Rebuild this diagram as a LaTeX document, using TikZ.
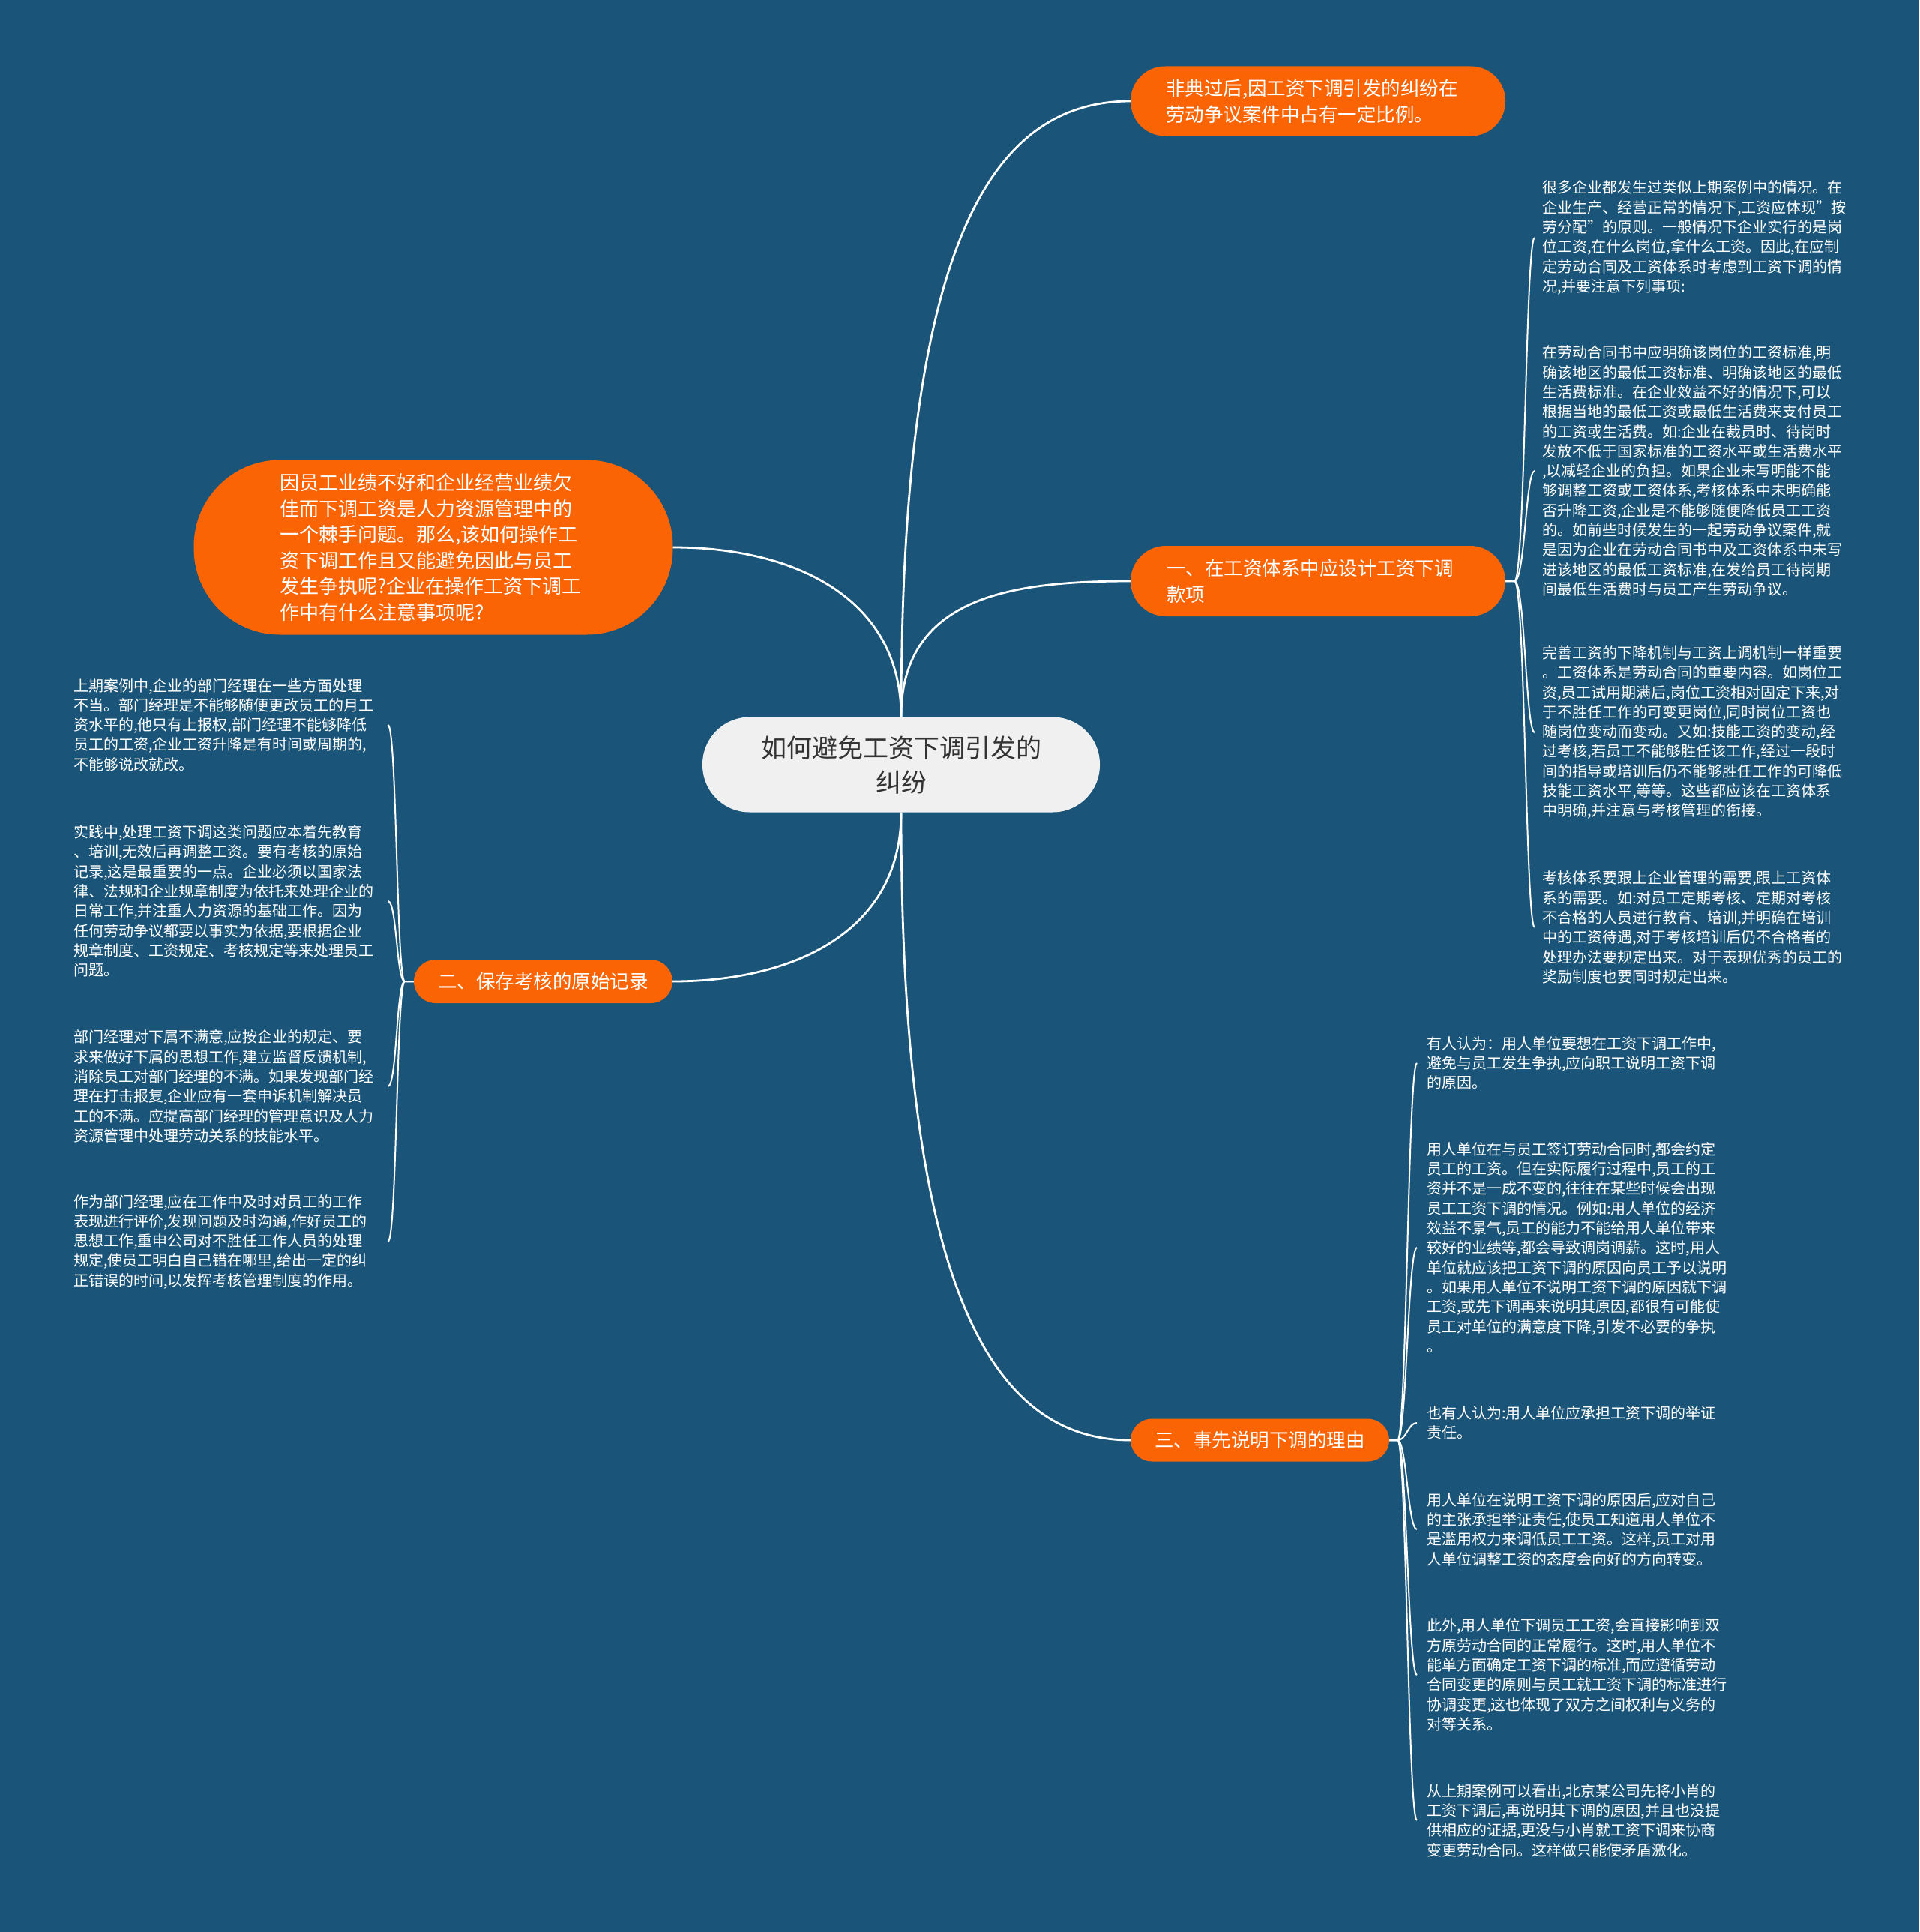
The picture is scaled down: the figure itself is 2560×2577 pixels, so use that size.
\documentclass[tikz,border=0pt]{standalone}
\usepackage{fontspec}
\setmainfont{Noto Sans CJK SC}
\definecolor{bg}{HTML}{1A5579}
\definecolor{org}{HTML}{FA6405}
\definecolor{cgray}{HTML}{F0F0F0}
\definecolor{ctext}{HTML}{333333}
\tikzset{
  orangebox/.style={fill=org, text=white, font=\fontsize{25.5}{35}\selectfont},
  centerbox/.style={fill=cgray, text=ctext, align=center, minimum width=530pt, minimum height=127pt,
     rounded corners=63pt, font=\fontsize{34}{46}\selectfont},
  leaftext/.style={text=white, text width=415pt, align=left, inner sep=0pt, font=\fontsize{20}{26.3}\selectfont},
  conn/.style={draw=white, line width=2.8pt},
  leafconn/.style={draw=white, line width=2pt}
}
\begin{document}
\begin{tikzpicture}[x=1pt,y=-1pt]
\fill[bg] (0,0) rectangle (2560,2577);
\useasboundingbox (0,0) rectangle (2560,2577);

% main nodes
\node[centerbox] (c) at (1202,1020) {如何避免工资下调引发的\\纠纷};
\node[orangebox, rounded corners=46pt, minimum width=500pt, minimum height=93pt,
      text width=406pt, inner xsep=47pt, align=left] (tr) at (1758,135)
  {非典过后,因工资下调引发的纠纷在\\劳动争议案件中占有一定比例。};
\node[orangebox, rounded corners=47pt, minimum width=500pt, minimum height=94pt,
      text width=404pt, inner xsep=48pt, align=left] (n1) at (1758,775)
  {一、在工资体系中应设计工资下调\\款项};
\node[orangebox, rounded corners=115pt, minimum width=639pt, minimum height=233pt,
      text width=410pt, inner xsep=114.5pt, align=left, font=\fontsize{26}{34.6}\selectfont] (lb) at (578,730)
  {因员工业绩不好和企业经营业绩欠\\佳而下调工资是人力资源管理中的\\一个棘手问题。那么,该如何操作工\\资下调工作且又能避免因此与员工\\发生争执呢?企业在操作工资下调工\\作中有什么注意事项呢?};
\node[orangebox, rounded corners=29pt, minimum width=345pt, minimum height=58pt, inner xsep=30pt] (n2) at (724.5,1309)
  {二、保存考核的原始记录};
\node[orangebox, rounded corners=28.5pt, minimum width=345pt, minimum height=57pt, inner xsep=30pt] (n3) at (1680.5,1921)
  {三、事先说明下调的理由};

% main connectors
\draw[conn] (c.north) .. controls +(0,-600) and +(-200,0) .. (tr.west);
\draw[conn] (c.north) .. controls +(0,-160) and +(-160,0) .. (n1.west);
\draw[conn] (c.north) .. controls +(0,-160) and +(160,0) .. (lb.east);
\draw[conn] (c.south) .. controls +(0,160) and +(160,0) .. (n2.east);
\draw[conn] (c.south) .. controls +(0,600) and +(-200,0) .. (n3.west);

% right leaves (section 1)
\node[leaftext, anchor=west] (r1) at (2057,317) {很多企业都发生过类似上期案例中的情况。在\\企业生产、经营正常的情况下,工资应体现"按\\劳分配"的原则。一般情况下企业实行的是岗\\位工资,在什么岗位,拿什么工资。因此,在应制\\定劳动合同及工资体系时考虑到工资下调的情\\况,并要注意下列事项:};
\node[leaftext, anchor=west] (r2) at (2057,628) {在劳动合同书中应明确该岗位的工资标准,明\\确该地区的最低工资标准、明确该地区的最低\\生活费标准。在企业效益不好的情况下,可以\\根据当地的最低工资或最低生活费来支付员工\\的工资或生活费。如:企业在裁员时、待岗时\\发放不低于国家标准的工资水平或生活费水平\\,以减轻企业的负担。如果企业未写明能不能\\够调整工资或工资体系,考核体系中未明确能\\否升降工资,企业是不能够随便降低员工工资\\的。如前些时候发生的一起劳动争议案件,就\\是因为企业在劳动合同书中及工资体系中未写\\进该地区的最低工资标准,在发给员工待岗期\\间最低生活费时与员工产生劳动争议。};
\node[leaftext, anchor=west] (r3) at (2057,977) {完善工资的下降机制与工资上调机制一样重要\\。工资体系是劳动合同的重要内容。如岗位工\\资,员工试用期满后,岗位工资相对固定下来,对\\于不胜任工作的可变更岗位,同时岗位工资也\\随岗位变动而变动。又如:技能工资的变动,经\\过考核,若员工不能够胜任该工作,经过一段时\\间的指导或培训后仍不能够胜任工作的可降低\\技能工资水平,等等。这些都应该在工资体系\\中明确,并注意与考核管理的衔接。};
\node[leaftext, anchor=west] (r4) at (2057,1237) {考核体系要跟上企业管理的需要,跟上工资体\\系的需要。如:对员工定期考核、定期对考核\\不合格的人员进行教育、培训,并明确在培训\\中的工资待遇,对于考核培训后仍不合格者的\\处理办法要规定出来。对于表现优秀的员工的\\奖励制度也要同时规定出来。};
\foreach \k in {r1,r2,r3,r4}
  \draw[leafconn] (n1.east) -- ++(12,0) .. controls +(14,0) and +(-12,0) .. ([xshift=-10pt]\k.west);

% left leaves (section 2)
\node[leaftext, anchor=west] (l1) at (98,967) {上期案例中,企业的部门经理在一些方面处理\\不当。部门经理是不能够随便更改员工的月工\\资水平的,他只有上报权,部门经理不能够降低\\员工的工资,企业工资升降是有时间或周期的,\\不能够说改就改。};
\node[leaftext, anchor=west] (l2) at (98,1202) {实践中,处理工资下调这类问题应本着先教育\\、培训,无效后再调整工资。要有考核的原始\\记录,这是最重要的一点。企业必须以国家法\\律、法规和企业规章制度为依托来处理企业的\\日常工作,并注重人力资源的基础工作。因为\\任何劳动争议都要以事实为依据,要根据企业\\规章制度、工资规定、考核规定等来处理员工\\问题。};
\node[leaftext, anchor=west] (l3) at (98,1449) {部门经理对下属不满意,应按企业的规定、要\\求来做好下属的思想工作,建立监督反馈机制,\\消除员工对部门经理的不满。如果发现部门经\\理在打击报复,企业应有一套申诉机制解决员\\工的不满。应提高部门经理的管理意识及人力\\资源管理中处理劳动关系的技能水平。};
\node[leaftext, anchor=west] (l4) at (98,1656) {作为部门经理,应在工作中及时对员工的工作\\表现进行评价,发现问题及时沟通,作好员工的\\思想工作,重申公司对不胜任工作人员的处理\\规定,使员工明白自己错在哪里,给出一定的纠\\正错误的时间,以发挥考核管理制度的作用。};
\foreach \k in {l1,l2,l3,l4}
  \draw[leafconn] (n2.west) -- ++(-12,0) .. controls +(-11,0) and +(12,0) .. ([xshift=4pt]\k.east);

% bottom-right leaves (section 3)
\node[leaftext, anchor=west] (b1) at (1903,1418) {有人认为：用人单位要想在工资下调工作中,\\避免与员工发生争执,应向职工说明工资下调\\的原因。};
\node[leaftext, anchor=west] (b2) at (1903,1664) {用人单位在与员工签订劳动合同时,都会约定\\员工的工资。但在实际履行过程中,员工的工\\资并不是一成不变的,往往在某些时候会出现\\员工工资下调的情况。例如:用人单位的经济\\效益不景气,员工的能力不能给用人单位带来\\较好的业绩等,都会导致调岗调薪。这时,用人\\单位就应该把工资下调的原因向员工予以说明\\。如果用人单位不说明工资下调的原因就下调\\工资,或先下调再来说明其原因,都很有可能使\\员工对单位的满意度下降,引发不必要的争执\\。};
\node[leaftext, anchor=west] (b3) at (1903,1898) {也有人认为:用人单位应承担工资下调的举证\\责任。};
\node[leaftext, anchor=west] (b4) at (1903,2040) {用人单位在说明工资下调的原因后,应对自己\\的主张承担举证责任,使员工知道用人单位不\\是滥用权力来调低员工工资。这样,员工对用\\人单位调整工资的态度会向好的方向转变。};
\node[leaftext, anchor=west] (b5) at (1903,2234) {此外,用人单位下调员工工资,会直接影响到双\\方原劳动合同的正常履行。这时,用人单位不\\能单方面确定工资下调的标准,而应遵循劳动\\合同变更的原则与员工就工资下调的标准进行\\协调变更,这也体现了双方之间权利与义务的\\对等关系。};
\node[leaftext, anchor=west] (b6) at (1903,2428) {从上期案例可以看出,北京某公司先将小肖的\\工资下调后,再说明其下调的原因,并且也没提\\供相应的证据,更没与小肖就工资下调来协商\\变更劳动合同。这样做只能使矛盾激化。};
\foreach \k in {b1,b2,b3,b4,b5,b6}
  \draw[leafconn] (n3.east) -- ++(11,0) .. controls +(12,0) and +(-12,0) .. ([xshift=-13pt]\k.west);
\end{tikzpicture}
\end{document}
